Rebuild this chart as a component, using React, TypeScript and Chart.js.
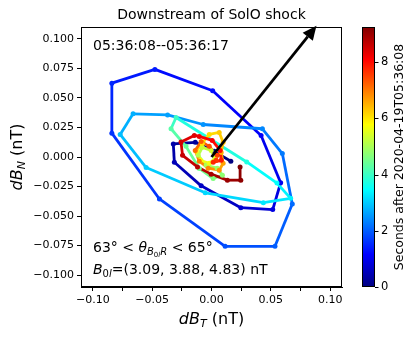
import React, { useEffect, useRef } from 'react';
import { Chart, registerables } from 'chart.js';
Chart.register(...registerables);

// Hodogram samples (nT)
const dBT = [
  0.0163, 0.0023, -0.0137, -0.0322, -0.0313, -0.0087, 0.0247, 0.0516, 0.0583,
  0.0418, 0.0010, -0.0477, -0.0840, -0.0840, -0.0439, 0.0115, 0.0535, 0.0681,
  0.0597, 0.0429, -0.0070, -0.0370, -0.0661, -0.0770,
  -0.0551, -0.0053, 0.0437, 0.0667, 0.0552, 0.0297,
  -0.0299, -0.0341, -0.0215, -0.0103, 0.0014, 0.0092,
  0.0048, -0.0045, -0.0112, -0.0078, -0.0003, 0.0031, -0.0019, -0.0095, -0.0129,
  -0.0078, -0.0019, 0.0065, 0.0098, 0.0082, 0.0098, 0.0065, -0.0028, -0.0103, -0.0137, -0.0087, -0.0019, 0.0048,
  0.0039, 0.0014, 0.0082, 0.0073, 0.0006, -0.0103, -0.0145, -0.0257, -0.0244, -0.0118, -0.0003,
  0.0134, 0.0247, 0.0241,
];
const dBN = [
  -0.0036, 0.0048, 0.0124, 0.0111, -0.0045, -0.0244, -0.0429, -0.0445, -0.0218,
  0.0182, 0.0561, 0.0741, 0.0625, 0.0202, -0.0355, -0.0756, -0.0756, -0.0397,
  0.0029, 0.0239, 0.0275, 0.0356, 0.0365, 0.0191,
  -0.0089, -0.0303, -0.0387, -0.0350, -0.0221, -0.0042,
  0.0334, 0.0239, 0.0090, -0.0097, -0.0182, -0.0154,
  -0.0095, -0.0070, 0.0014, 0.0082, 0.0056, -0.0011, -0.0053, -0.0028, 0.0048,
  0.0115, 0.0191, 0.0208, 0.0124, 0.0039, -0.0053, -0.0112, -0.0095, -0.0036, 0.0056, 0.0132, 0.0090, 0.0014,
  -0.0028, -0.0045, -0.0028, 0.0056, 0.0140, 0.0174, 0.0182, 0.0126, 0.0014, -0.0084, -0.0145,
  -0.0196, -0.0196, -0.0084,
];
// Seconds after 2020-04-19T05:36:08
const seconds = [
  0.0, 0.12, 0.25, 0.38, 0.5, 0.62, 0.75, 0.88, 1.0,
  1.12, 1.25, 1.38, 1.5, 1.62, 1.75, 1.88, 2.0, 2.12,
  2.25, 2.38, 2.5, 2.62, 2.75, 2.88,
  3.0, 3.12, 3.25, 3.38, 3.5, 3.75,
  4.0, 4.25, 4.4, 4.5, 4.62, 4.75,
  4.88, 5.0, 5.12, 5.25, 5.38, 5.5, 5.62, 5.75, 5.88,
  6.0, 6.12, 6.25, 6.38, 6.5, 6.62, 6.75, 6.88, 7.0, 7.12, 7.25, 7.38, 7.5,
  7.62, 7.75, 7.88, 8.0, 8.12, 8.25, 8.38, 8.5, 8.62, 8.75, 8.88,
  9.0, 9.12, 9.25,
];
const tMin = 0;
const tMax = 9.25;
const colorbarTicks = [0, 2, 4, 6, 8];
const axisMin = -0.11;
const axisMax = 0.11;
const axisStep = 0.025;
const arrowStart = { x: 0, y: 0 };
const arrowEnd = { x: 0.0885, y: 0.111 };
const titleText = 'Downstream of SolO shock';
const timeRangeText = '05:36:08--05:36:17';
const B0 = ['3.09', '3.88', '4.83'];
const cbLabel = 'Seconds after 2020-04-19T05:36:08';

const FONT = '"DejaVu Sans", "Liberation Sans", sans-serif';

function clamp(v: number) { return Math.max(0, Math.min(1, v)); }
function jet(v: number) {
  const t = clamp(v);
  const r = clamp(1.5 - Math.abs(4 * t - 3));
  const g = clamp(1.5 - Math.abs(4 * t - 2));
  const b = clamp(1.5 - Math.abs(4 * t - 1));
  return `rgb(${Math.round(r * 255)},${Math.round(g * 255)},${Math.round(b * 255)})`;
}
const norm = (s: number) => (s - tMin) / (tMax - tMin);

type Run = { t: string; size: number; italic?: boolean; dy?: number };
function runsWidth(ctx: CanvasRenderingContext2D, runs: Run[]) {
  let w = 0;
  for (const r of runs) {
    ctx.font = `${r.italic ? 'italic ' : ''}${r.size}px ${FONT}`;
    w += ctx.measureText(r.t).width;
  }
  return w;
}
function drawRuns(ctx: CanvasRenderingContext2D, runs: Run[], x: number, y: number) {
  let cx = x;
  ctx.textBaseline = 'alphabetic';
  ctx.textAlign = 'left';
  for (const r of runs) {
    ctx.font = `${r.italic ? 'italic ' : ''}${r.size}px ${FONT}`;
    ctx.fillText(r.t, cx, y + (r.dy || 0));
    cx += ctx.measureText(r.t).width;
  }
}

const decorPlugin = {
  id: 'decor',
  afterDatasetsDraw(chart: any) {
    const { ctx, chartArea: a, scales } = chart;
    const xs = scales.x, ys = scales.y, cb = scales.cb;
    ctx.save();
    // frame
    ctx.strokeStyle = '#000';
    ctx.lineWidth = 1;
    ctx.strokeRect(Math.round(a.left) + 0.5, Math.round(a.top) + 0.5, Math.round(a.right - a.left) - 1, Math.round(a.bottom - a.top) - 1);

    // arrow
    const x0 = xs.getPixelForValue(arrowStart.x), y0 = ys.getPixelForValue(arrowStart.y);
    const x1 = xs.getPixelForValue(arrowEnd.x), y1 = ys.getPixelForValue(arrowEnd.y);
    const ang = Math.atan2(y1 - y0, x1 - x0);
    const hl = 14, hw = 6.5;
    const bx = x1 - hl * Math.cos(ang), by = y1 - hl * Math.sin(ang);
    ctx.strokeStyle = '#000';
    ctx.lineWidth = 2.8;
    ctx.beginPath();
    ctx.moveTo(x0, y0);
    ctx.lineTo(bx, by);
    ctx.stroke();
    ctx.fillStyle = '#000';
    ctx.beginPath();
    ctx.moveTo(x1, y1);
    ctx.lineTo(bx + hw * Math.sin(ang), by - hw * Math.cos(ang));
    ctx.lineTo(bx - hw * Math.sin(ang), by + hw * Math.cos(ang));
    ctx.closePath();
    ctx.fill();

    ctx.fillStyle = '#000';
    // title
    ctx.font = `14px ${FONT}`;
    ctx.textAlign = 'center';
    ctx.textBaseline = 'alphabetic';
    ctx.fillText(titleText, (a.left + a.right) / 2, 18.5);

    // in-axes texts
    drawRuns(ctx, [{ t: timeRangeText, size: 14 }], a.left + 12, 49.5);
    drawRuns(ctx, [
      { t: '63° < ', size: 14 },
      { t: 'θ', size: 14, italic: true },
      { t: 'B', size: 10, italic: true, dy: 3 },
      { t: '0', size: 7, dy: 5 },
      { t: 'l', size: 7, italic: true, dy: 5 },
      { t: 'R', size: 10, italic: true, dy: 3 },
      { t: ' < 65°', size: 14 },
    ], a.left + 12, 251.5);
    drawRuns(ctx, [
      { t: 'B', size: 14, italic: true },
      { t: '0', size: 10, dy: 3 },
      { t: 'l', size: 10, italic: true, dy: 3 },
      { t: `=(${B0[0]}, ${B0[1]}, ${B0[2]}) nT`, size: 14 },
    ], a.left + 12, 274);

    // axis labels
    const xl: Run[] = [
      { t: 'dB', size: 16, italic: true },
      { t: 'T', size: 11, italic: true, dy: 3 },
      { t: ' (nT)', size: 16 },
    ];
    drawRuns(ctx, xl, (a.left + a.right) / 2 - runsWidth(ctx, xl) / 2, 324);
    const yl: Run[] = [
      { t: 'dB', size: 16, italic: true },
      { t: 'N', size: 11, italic: true, dy: 3 },
      { t: ' (nT)', size: 16 },
    ];
    ctx.save();
    ctx.translate(22, (a.top + a.bottom) / 2);
    ctx.rotate(-Math.PI / 2);
    drawRuns(ctx, yl, -runsWidth(ctx, yl) / 2, 0);
    ctx.restore();

    // colorbar
    const barL = cb.left + 20, barW = 13;
    const top = cb.getPixelForValue(tMax), bot = cb.getPixelForValue(tMin);
    const grad = ctx.createLinearGradient(0, bot, 0, top);
    for (let i = 0; i <= 40; i++) grad.addColorStop(i / 40, jet(i / 40));
    ctx.fillStyle = grad;
    ctx.fillRect(barL, top, barW, bot - top);
    ctx.strokeStyle = '#000';
    ctx.lineWidth = 1;
    ctx.strokeRect(Math.round(barL) + 0.5, Math.round(top) + 0.5, barW - 1, Math.round(bot - top) - 1);
    ctx.fillStyle = '#000';
    ctx.font = `11.5px ${FONT}`;
    ctx.textAlign = 'left';
    ctx.textBaseline = 'middle';
    for (const v of colorbarTicks) {
      const y = Math.round(cb.getPixelForValue(v)) + 0.5;
      ctx.beginPath();
      ctx.moveTo(barL + barW, y);
      ctx.lineTo(barL + barW + 3.5, y);
      ctx.stroke();
      ctx.fillText(String(v), barL + barW + 6, y);
    }
    ctx.save();
    ctx.translate(403, (top + bot) / 2);
    ctx.rotate(-Math.PI / 2);
    ctx.textAlign = 'center';
    ctx.textBaseline = 'alphabetic';
    ctx.font = `12.5px ${FONT}`;
    ctx.fillText(cbLabel, 0, 0);
    ctx.restore();

    ctx.restore();
  },
};

const fmt = (v: number, d: number) => {
  const r = Math.round(v * 1000) / 1000;
  const s = Math.abs(r).toFixed(d);
  return (r < 0 ? '\u2212' : '') + s;
};

export default function App() {
  const ref = useRef<HTMLCanvasElement>(null);
  useEffect(() => {
    if (!ref.current) return;
    const pts = dBT.map((x, i) => ({ x, y: dBN[i] }));
    const chart = new Chart(ref.current, {
      type: 'scatter',
      data: {
        datasets: [{
          data: pts,
          showLine: true,
          borderWidth: 2.8,
          borderColor: jet(0),
          segment: { borderColor: (c: any) => jet(norm(seconds[c.p0DataIndex])) },
          pointRadius: 2.5,
          pointBorderWidth: 0,
          pointBackgroundColor: seconds.map((s) => jet(norm(s))),
          pointBorderColor: seconds.map((s) => jet(norm(s))),
        } as any],
      },
      options: {
        animation: false,
        responsive: false,
        events: [],
        layout: { padding: { top: 27, left: 0, right: 0, bottom: 0 } },
        plugins: { legend: { display: false }, tooltip: { enabled: false }, title: { display: false } },
        scales: {
          x: {
            type: 'linear', position: 'bottom', min: axisMin, max: axisMax,
            ticks: {
              stepSize: axisStep, includeBounds: false, autoSkip: false, maxRotation: 0, color: '#000', padding: 3,
              font: { family: FONT, size: 11 },
              callback: (v: any) => {
                const k = Math.round(Number(v) / axisStep);
                return k % 2 === 0 ? fmt(Number(v), 2) : '';
              },
            },
            grid: { drawOnChartArea: false, drawTicks: true, tickLength: 4, tickColor: '#000', color: '#000' },
            border: { display: true, color: '#000', width: 1 },
            afterFit: (s: any) => { s.height = 50; },
          },
          y: {
            type: 'linear', position: 'left', min: axisMin, max: axisMax,
            ticks: {
              stepSize: axisStep, includeBounds: false, autoSkip: false, color: '#000', padding: 3,
              font: { family: FONT, size: 11 },
              callback: (v: any) => fmt(Number(v), 3),
            },
            grid: { drawOnChartArea: false, drawTicks: true, tickLength: 4, tickColor: '#000', color: '#000' },
            border: { display: true, color: '#000', width: 1 },
            afterFit: (s: any) => { s.width = 81; },
          },
          cb: {
            type: 'linear', position: 'right', min: tMin, max: tMax,
            ticks: { display: false, stepSize: 2, includeBounds: false },
            grid: { display: false, drawTicks: false },
            border: { display: false },
            afterFit: (s: any) => { s.width = 73; },
          },
        },
      } as any,
      plugins: [decorPlugin],
    });
    return () => chart.destroy();
  }, []);
  return (
    <div style={{ position: 'fixed', left: 0, top: 0, width: 415, height: 337, background: '#fff' }}>
      <canvas ref={ref} width={415} height={337} style={{ display: 'block' }} />
    </div>
  );
}
